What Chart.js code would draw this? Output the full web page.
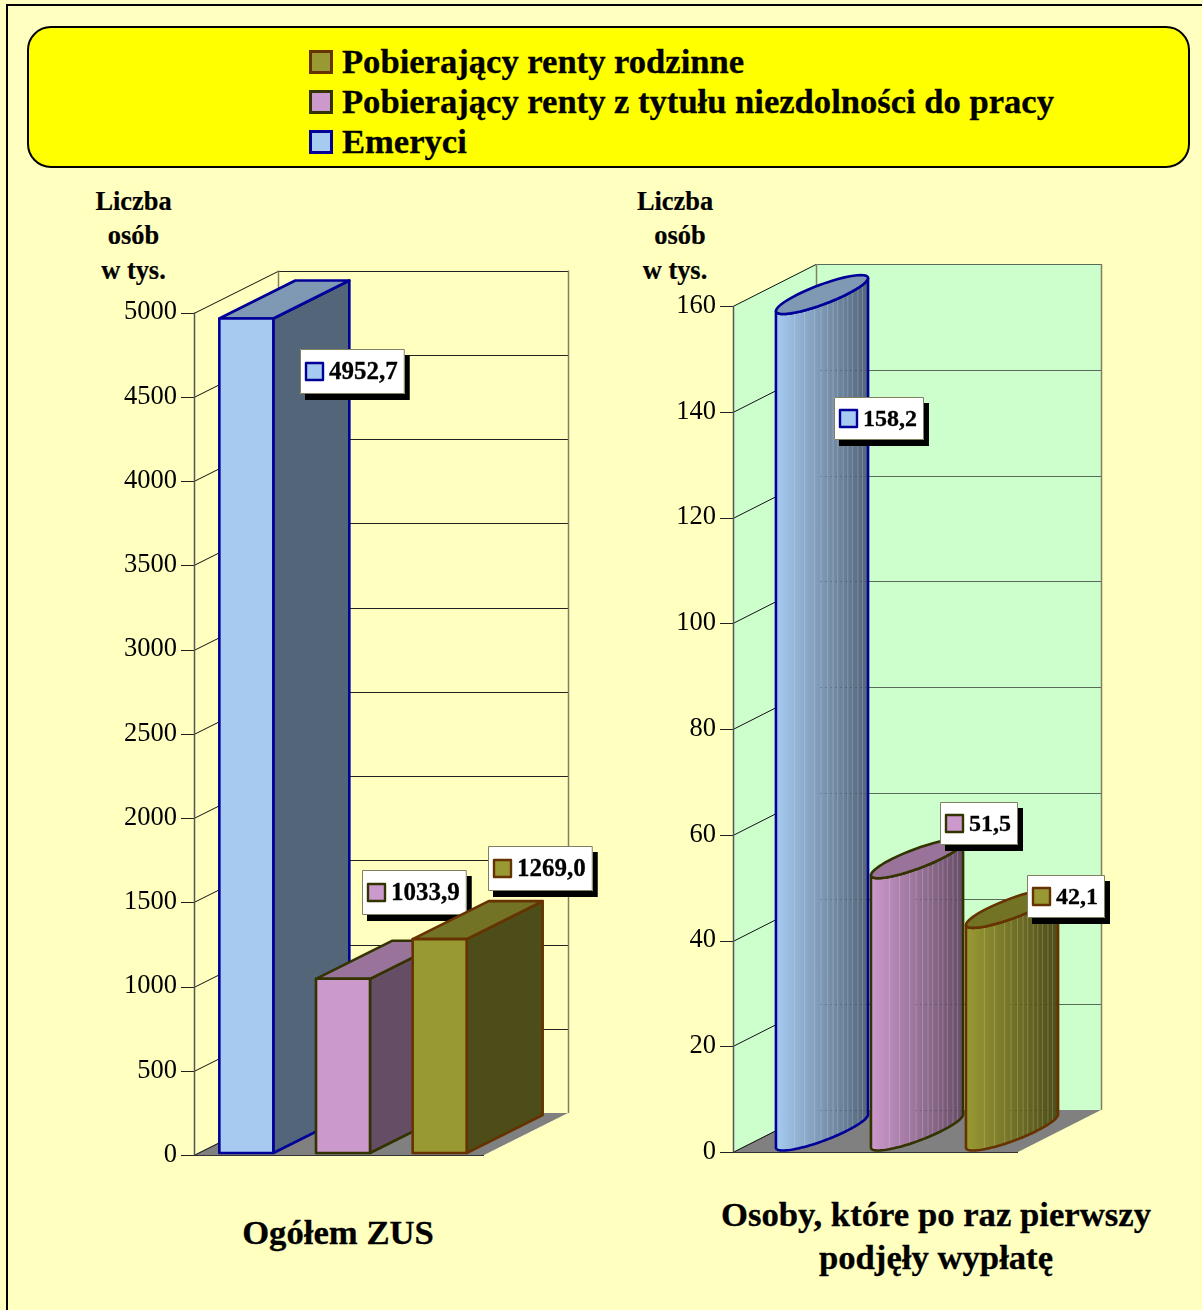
<!DOCTYPE html>
<html lang="pl">
<head>
<meta charset="UTF-8" />
<title>Liczba osób</title>
<script src="https://cdn.jsdelivr.net/npm/chart.js"></script>
<style>
  html, body { margin: 0; padding: 0; background: #fff; }
  #page { position: relative; width: 1202px; height: 1310px; overflow: hidden; background: #FFFFC0; font-family: "Liberation Serif", serif; color: #000; }
  #frame { position: absolute; left: 6px; top: 4px; width: 1200px; height: 1310px; border: 2px solid #000; box-sizing: border-box; }
  #legendBox { position: absolute; left: 27px; top: 26px; width: 1163px; height: 142px; box-sizing: border-box; background: #FFFF00; border: 2px solid #000; border-radius: 24px; }
  .legendRow { position: absolute; left: 309px; height: 40px; font-weight: bold; font-size: 34.6px; line-height: 40px; white-space: nowrap; -webkit-text-stroke: 0.3px #000; }
  .legendRow i { position: absolute; left: 0; top: 8px; width: 24px; height: 24px; box-sizing: border-box; border: 3px solid; }
  .legendRow span { position: absolute; left: 33px; top: -1px; }
  .axisTitle { position: absolute; width: 120px; text-align: center; font-weight: bold; font-size: 26.4px; line-height: 34.5px; -webkit-text-stroke: 0.2px #000; }
  .chartTitle { position: absolute; text-align: center; font-weight: bold; font-size: 34.7px; line-height: 43px; white-space: nowrap; -webkit-text-stroke: 0.3px #000; }
  .panel { position: absolute; }
</style>
</head>
<body>
<div id="page">
  <div id="frame"></div>
  <div id="legendBox"></div>
  <div id="legendRows"></div>
  <div class="axisTitle" style="left:73.5px;top:183.5px">Liczba<br>osób<br>w tys.</div>
  <div class="axisTitle" style="left:615px;top:183.5px">Liczba<br><span style="margin-left:10px">osób</span><br>w tys.</div>
  <div class="chartTitle" style="left:138px;width:400px;top:1211px">Ogółem ZUS</div>
  <div class="chartTitle" style="left:636px;width:600px;top:1193px">Osoby, które po raz pierwszy<br>podjęły wypłatę</div>
  <div class="panel" style="left:100px;top:250px;width:510px;height:955px"><canvas id="leftChart"></canvas></div>
  <div class="panel" style="left:640px;top:250px;width:562px;height:952px"><canvas id="rightChart"></canvas></div>
</div>

<script>
  const categories = ['Emeryci', 'Pobierający renty z tytułu niezdolności do pracy', 'Pobierający renty rodzinne'];
  const totalValues = [4952.7, 1033.9, 1269.0];
  const firstPayoutValues = [158.2, 51.5, 42.1];
  const totalTicks = [0, 500, 1000, 1500, 2000, 2500, 3000, 3500, 4000, 4500, 5000];
  const firstPayoutTicks = [0, 20, 40, 60, 80, 100, 120, 140, 160];

  // fill, stroke, side face, top face, dark end of the cylinder gradient
  const palette = [
    { fill: '#A6CAF0', line: '#000099', side: '#536579', top: '#7F98B4', dark: '#536579' },
    { fill: '#CC99CC', line: '#333300', side: '#664D66', top: '#99739A', dark: '#664D66' },
    { fill: '#999933', line: '#663300', side: '#4D4D1A', top: '#737326', dark: '#4D4D1A' },
  ];
  const stripes = [0.2, 0.31, 0.42, 0.49, 0.56, 0.62, 0.67, 0.73, 0.78, 0.83, 0.89, 0.94];

  // legend is listed bottom up in the original
  [2, 1, 0].forEach((i, row) => {
    const div = document.createElement('div');
    div.className = 'legendRow';
    div.style.top = (42 + row * 40) + 'px';
    div.innerHTML = `<i style="background:${palette[i].fill};border-color:${palette[i].line}"></i><span>${categories[i]}</span>`;
    document.getElementById('legendRows').appendChild(div);
  });

  function poly(ctx, pts, fill) {
    ctx.beginPath();
    pts.forEach((p, i) => (i ? ctx.lineTo(p[0], p[1]) : ctx.moveTo(p[0], p[1])));
    ctx.closePath();
    if (fill) { ctx.fillStyle = fill; ctx.fill(); }
  }

  function line(ctx, x1, y1, x2, y2, color, width) {
    ctx.beginPath();
    ctx.moveTo(x1, y1);
    ctx.lineTo(x2, y2);
    ctx.strokeStyle = color;
    ctx.lineWidth = width || 1;
    ctx.stroke();
  }

  function drawBox(ctx, el, c, o) {
    const w = o.barWidth;
    const x = el.x + (o.wallX - o.depthX) / 2 - w / 2;
    const shift = (o.wallY - o.depthY) / 2;
    const top = el.y - shift;
    const base = el.base - shift;
    const dx = o.depthX, dy = o.depthY;
    ctx.lineJoin = 'round';
    ctx.strokeStyle = c.line;
    ctx.lineWidth = 2.6;
    poly(ctx, [[x + w, top], [x + w + dx, top - dy], [x + w + dx, base - dy], [x + w, base]], c.side);
    ctx.stroke();
    poly(ctx, [[x, top], [x + dx, top - dy], [x + w + dx, top - dy], [x + w, top]], c.top);
    ctx.stroke();
    poly(ctx, [[x, top], [x + w, top], [x + w, base], [x, base]], c.fill);
    ctx.stroke();
  }

  function drawCylinder(ctx, el, c, o, chart) {
    const cx = el.x + o.wallX / 2;
    const half = o.barWidth / 2, dx = o.depthX / 2, dy = o.depthY / 2;
    const topY = el.y - o.wallY / 2;
    const baseY = el.base - o.wallY / 2;
    const tMax = Math.atan2(dx, half);
    const pt = (t, cy) => [cx + half * Math.cos(t) + dx * Math.sin(t), cy - dy * Math.sin(t)];
    const arc = (cy, from, to) => {
      for (let k = 0; k <= 48; k++) {
        const p = pt(from + (to - from) * k / 48, cy);
        ctx.lineTo(p[0], p[1]);
      }
    };
    const body = () => {
      ctx.beginPath();
      // left tangent, down, front of base, right tangent, up, front of top
      arc(baseY, tMax + Math.PI, tMax + 2 * Math.PI);
      arc(topY, tMax, tMax - Math.PI);
      ctx.closePath();
    };
    const left = pt(tMax + Math.PI, baseY)[0], right = pt(tMax, baseY)[0];
    const grad = ctx.createLinearGradient(left, 0, right, 0);
    grad.addColorStop(0, c.fill);
    grad.addColorStop(1, c.dark);
    body();
    ctx.fillStyle = grad;
    ctx.fill();

    ctx.save();
    body();
    ctx.clip();
    // facet edges of the cylinder
    ctx.globalAlpha = 0.2;
    stripes.forEach(f => {
      const sx = left + (right - left) * f;
      line(ctx, sx, topY - 40, sx, baseY + 40, '#fff', 1);
    });
    ctx.globalAlpha = 0.25;
    ctx.setLineDash([2, 3]);
    const scale = chart.scales.y;
    scale.ticks.forEach(t => {
      const gy = Math.round(scale.getPixelForValue(t.value) - o.wallY) + 0.5;
      line(ctx, left + (right - left) * 0.48, gy, right, gy, '#222', 1);
    });
    ctx.restore();

    ctx.lineJoin = 'round';
    ctx.strokeStyle = c.line;
    ctx.lineWidth = 2.6;
    body();
    ctx.stroke();
    ctx.beginPath();
    arc(topY, 0, 2 * Math.PI);
    ctx.closePath();
    ctx.fillStyle = c.top;
    ctx.fill();
    ctx.stroke();
  }

  function drawLabel(ctx, el, value, c, off, o) {
    const text = value.toFixed(1).replace('.', ',');
    ctx.font = `bold ${o.labelFont}px "Liberation Serif"`;
    const w = 29 + ctx.measureText(text).width + 7;
    const h = o.labelHeight;
    const x = Math.round(el.x + off[0]), y = Math.round(el.y + off[1]);
    ctx.fillStyle = '#000';
    ctx.fillRect(x + 5, y + 6, w, h);
    ctx.fillStyle = '#fff';
    ctx.fillRect(x, y, w, h);
    ctx.strokeStyle = '#808060';
    ctx.lineWidth = 1;
    ctx.strokeRect(x + 0.5, y + 0.5, w - 1, h - 1);
    const my = y + Math.round((h - 17) / 2);
    ctx.fillStyle = c.fill;
    ctx.fillRect(x + 6, my, 17, 17);
    ctx.strokeStyle = c.line;
    ctx.lineWidth = 2.4;
    ctx.strokeRect(x + 6, my, 17, 17);
    ctx.fillStyle = '#000';
    ctx.textAlign = 'left';
    ctx.textBaseline = 'middle';
    ctx.fillText(text, x + 29, y + h / 2 + 1);
    ctx.strokeStyle = '#000';
    ctx.lineWidth = 0.3;
    ctx.strokeText(text, x + 29, y + h / 2 + 1);
  }

  const box3d = {
    id: 'box3d',
    // walls and floor go under the bars
    beforeDatasetsDraw(chart, args, o) {
      const ctx = chart.ctx, y = chart.scales.y, a = chart.chartArea;
      const dx = o.wallX, dy = o.wallY;
      const y0 = y.getPixelForValue(0), yMax = y.getPixelForValue(y.max);
      const l = a.left, r = a.right;
      ctx.save();
      poly(ctx, [[l, y0], [l + dx, y0 - dy], [l + dx, yMax - dy], [l, yMax]], o.wall);
      poly(ctx, [[l + dx, yMax - dy], [r + dx, yMax - dy], [r + dx, y0 - dy], [l + dx, y0 - dy]], o.wall);
      poly(ctx, [[l, y0], [r, y0], [r + dx, y0 - dy], [l + dx, y0 - dy]], '#808080');
      y.ticks.forEach(t => {
        const py = Math.round(y.getPixelForValue(t.value)) + 0.5;
        const back = py - dy;
        line(ctx, l - 13, py, l, py, '#222', 1);
        line(ctx, l, py, l + dx, back, '#111', 1);
        if (t.value > 0) line(ctx, l + dx, back, r + dx, back, o.grid, 1);
      });
      line(ctx, l + 0.5, yMax, l + 0.5, y0, '#555', 1.5);
      line(ctx, l + dx + 0.5, yMax - dy, l + dx + 0.5, y0 - dy, '#807f60', 1.5);
      line(ctx, r + dx + 0.5, yMax - dy, r + dx + 0.5, y0 - dy, '#807f60', 1.5);
      line(ctx, l, y0 + 0.5, r, y0 + 0.5, '#333', 1);
      ctx.restore();
    },
    // bars are drawn here from the elements the library laid out
    beforeDatasetDraw(chart, args, o) {
      const ctx = chart.ctx;
      ctx.save();
      args.meta.data.forEach((el, i) => {
        if (o.shape === 'box') drawBox(ctx, el, palette[i], o);
        else drawCylinder(ctx, el, palette[i], o, chart);
        drawLabel(ctx, el, chart.data.datasets[0].data[i], palette[i], o.labelOffsets[i], o);
      });
      ctx.restore();
      return false;
    },
  };

  function makeChart(id, values, ticks, padding, yWidth, options) {
    new Chart(document.getElementById(id), {
      type: 'bar',
      data: {
        labels: categories,
        datasets: [{
          data: values,
          backgroundColor: palette.map(c => c.fill),
          borderColor: palette.map(c => c.line),
          categoryPercentage: 1,
          barPercentage: options.barPercentage,
        }],
      },
      plugins: [box3d],
      options: {
        responsive: true,
        maintainAspectRatio: false,
        animation: false,
        layout: { padding },
        plugins: { legend: { display: false }, tooltip: { enabled: false }, box3d: options },
        scales: {
          x: { display: false },
          y: {
            min: 0,
            max: ticks[ticks.length - 1],
            afterBuildTicks: s => { s.ticks = ticks.map(v => ({ value: v })); },
            afterFit: s => { s.width = yWidth; },
            grid: { display: false },
            border: { display: false },
            ticks: {
              padding: 9,
              autoSkip: false,
              color: '#000',
              font: { family: '"Liberation Serif"', size: 26.5 },
              callback: v => String(v),
            },
          },
        },
      },
    });
  }

  makeChart('leftChart', totalValues, totalTicks, { left: 0, right: 126, top: 62.5, bottom: 50 }, 94, {
    shape: 'box', wall: '#FFFFC0', grid: '#222', wallX: 84, wallY: 42, depthX: 76, depthY: 38,
    barWidth: 54, barPercentage: 54 / 97, labelFont: 25, labelHeight: 45,
    labelOffsets: [[57.5, 29], [22.5, -111], [52.5, -95]],
  });
  makeChart('rightChart', firstPayoutValues, firstPayoutTicks, { left: 0, right: 184, top: 56, bottom: 50 }, 93, {
    shape: 'cylinder', wall: '#CCFFCC', grid: '#5a6a5a', wallX: 83, wallY: 42, depthX: 78, depthY: 39,
    barWidth: 49, barPercentage: 49 / 95, labelFont: 24, labelHeight: 43,
    labelOffsets: [[53.5, 81], [64.5, -78], [56.5, -54.5]],
  });
</script>
</body>
</html>
